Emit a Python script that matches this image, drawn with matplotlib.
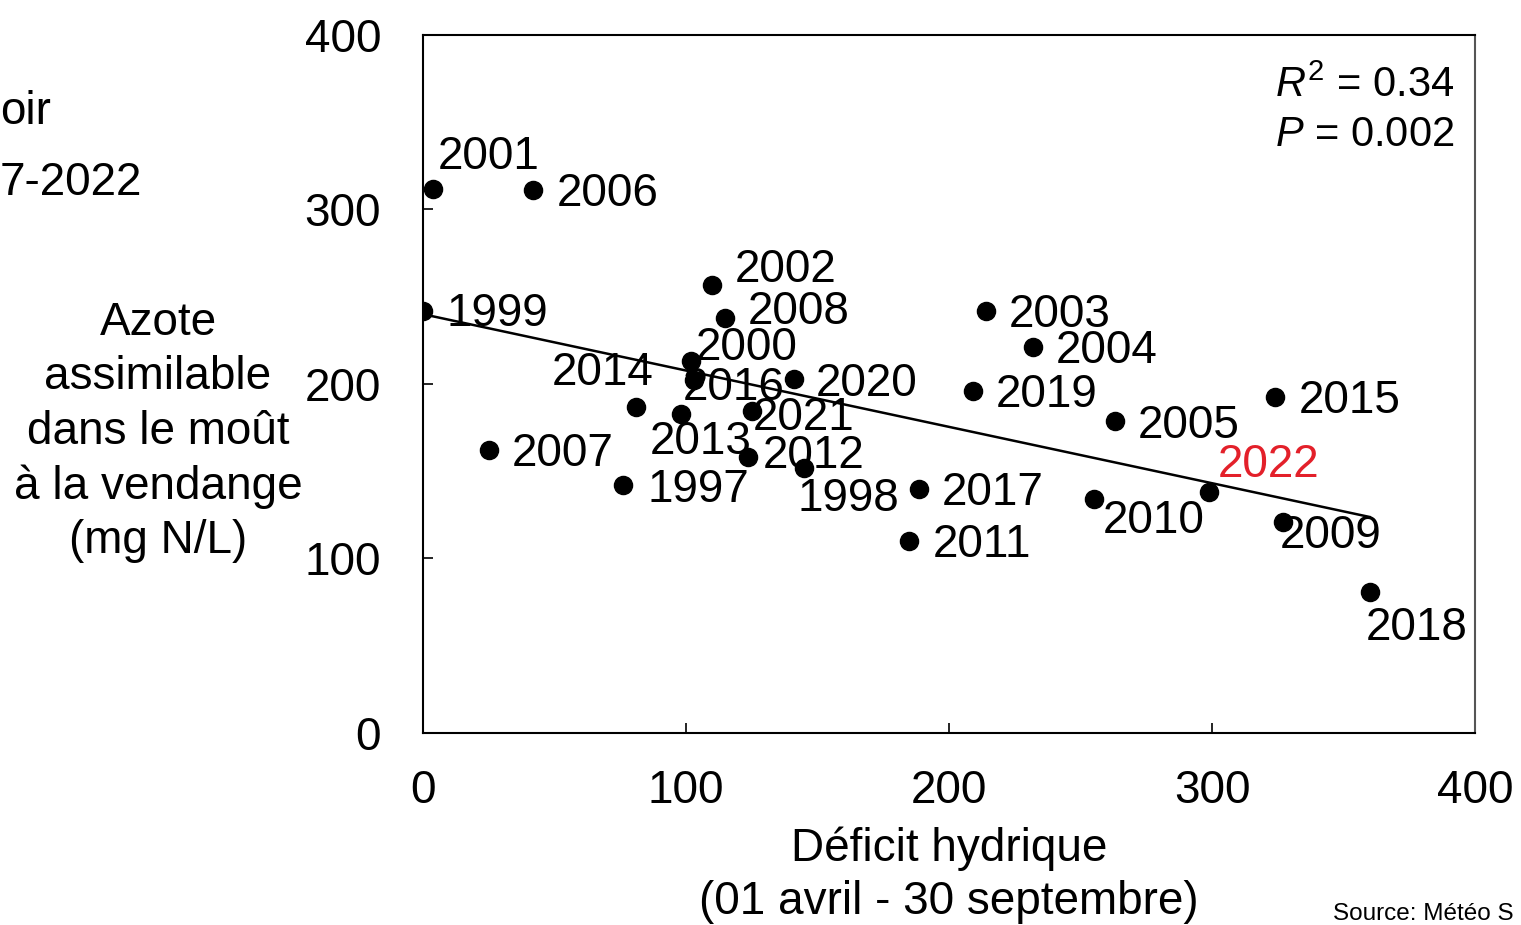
import numpy as np
import matplotlib.pyplot as plt

plt.rcParams['font.family'] = ['Liberation Sans', 'DejaVu Sans']
plt.rcParams['mathtext.fontset'] = 'custom'
plt.rcParams['mathtext.rm'] = 'Liberation Sans'
plt.rcParams['mathtext.it'] = 'Liberation Sans:italic'

# Données (déficit hydrique, azote assimilable)
years = ['2001', '2006', '1999', '2002', '2008', '2000', '2016', '2014', '2013',
         '2021', '2020', '2012', '1998', '1997', '2007', '2017', '2011', '2003',
         '2004', '2019', '2005', '2015', '2022', '2010', '2009', '2018']
deficit = [4, 42, 0, 110, 115, 102, 103, 81, 98, 125, 141, 123.5, 145, 76, 25,
           188.5, 185, 214, 232, 209, 263, 324, 299, 255, 327, 360]
azote = [312, 311, 242, 257, 238, 213, 202, 187, 183, 184.5, 203, 158, 152, 142,
         162, 140, 110, 242, 221, 196, 179, 192.5, 138, 134, 121, 81]

# décalage des étiquettes (pixels)
offsets = {'2001': (4, 35), '2006': (23, -1), '1999': (24, 0), '2002': (23, 18),
           '2008': (22, 9), '2000': (5, 16), '2016': (-11, -5), '2014': (-84, 37),
           '2013': (-31, -25), '2021': (1, -4), '2020': (22, -2), '2012': (15, 4),
           '1998': (-7, -28), '1997': (25, -2), '2007': (23, -1), '2017': (23, -1),
           '2011': (23, -1), '2003': (23, -1), '2004': (23, -1), '2019': (23, -1),
           '2005': (23, -2), '2015': (24, -1), '2022': (8, 30), '2010': (9, -19),
           '2009': (-3, -11), '2018': (-4, -33)}

fs = 33

fig = plt.figure(figsize=(15.21, 9.25), dpi=100)
ax = fig.add_axes([0.278, 0.2076, 0.6918, 0.7546])

ax.scatter(deficit, azote, s=170, color='black', zorder=3)

# droite de régression
a, b = np.polyfit(deficit, azote, 1)
xx = np.array([0, max(deficit)])
ax.plot(xx, a * xx + b, color='black', linewidth=1.8, zorder=2)

for yr, x, y in zip(years, deficit, azote):
    dx, dy = offsets[yr]
    col = '#e3202a' if yr == '2022' else 'black'
    ax.annotate(yr, (x, y), xytext=(dx, dy - 3), textcoords='offset pixels',
                ha='left', va='center', fontsize=fs, color=col, zorder=4)

ax.set_xlim(0, 400)
ax.set_ylim(0, 400)
ax.set_xticks([0, 100, 200, 300, 400])
ax.set_yticks([0, 100, 200, 300, 400])
ax.tick_params(direction='in', length=7, width=1.2, labelsize=fs)
ax.tick_params(axis='y', pad=30)
ax.tick_params(axis='x', pad=26)
for s in ax.spines.values():
    s.set_linewidth(1.5)
ax.spines['right'].set_color('#555555')

fig.text(1275 / 1521, 1 - 86 / 925, r'$R^{\mathregular{2}}$ = 0.34',
         ha='left', va='center', fontsize=fs - 3)
fig.text(1275 / 1521, 1 - 135 / 925, r'$P$ = 0.002',
         ha='left', va='center', fontsize=fs - 3)

fig.text(158 / 1521, 1 - 432 / 925,
         'Azote\nassimilable\ndans le moût\nà la vendange\n(mg N/L)',
         ha='center', va='center', fontsize=fs, linespacing=1.3)
fig.text(949 / 1521, 1 - 875 / 925,
         'Déficit hydrique\n(01 avril - 30 septembre)',
         ha='center', va='center', fontsize=fs, linespacing=1.25)

# texte coupé du titre de la diapositive (partie visible)
fig.text(0, 1 - 112 / 925, 'oir', ha='left', va='center', fontsize=fs)
fig.text(0, 1 - 183 / 925, '7-2022', ha='left', va='center', fontsize=fs)

fig.text(1333 / 1521, 1 - 914 / 925, 'Source: Météo S', ha='left',
         va='center', fontsize=17.5)

fig.savefig('out.png', dpi=100)
